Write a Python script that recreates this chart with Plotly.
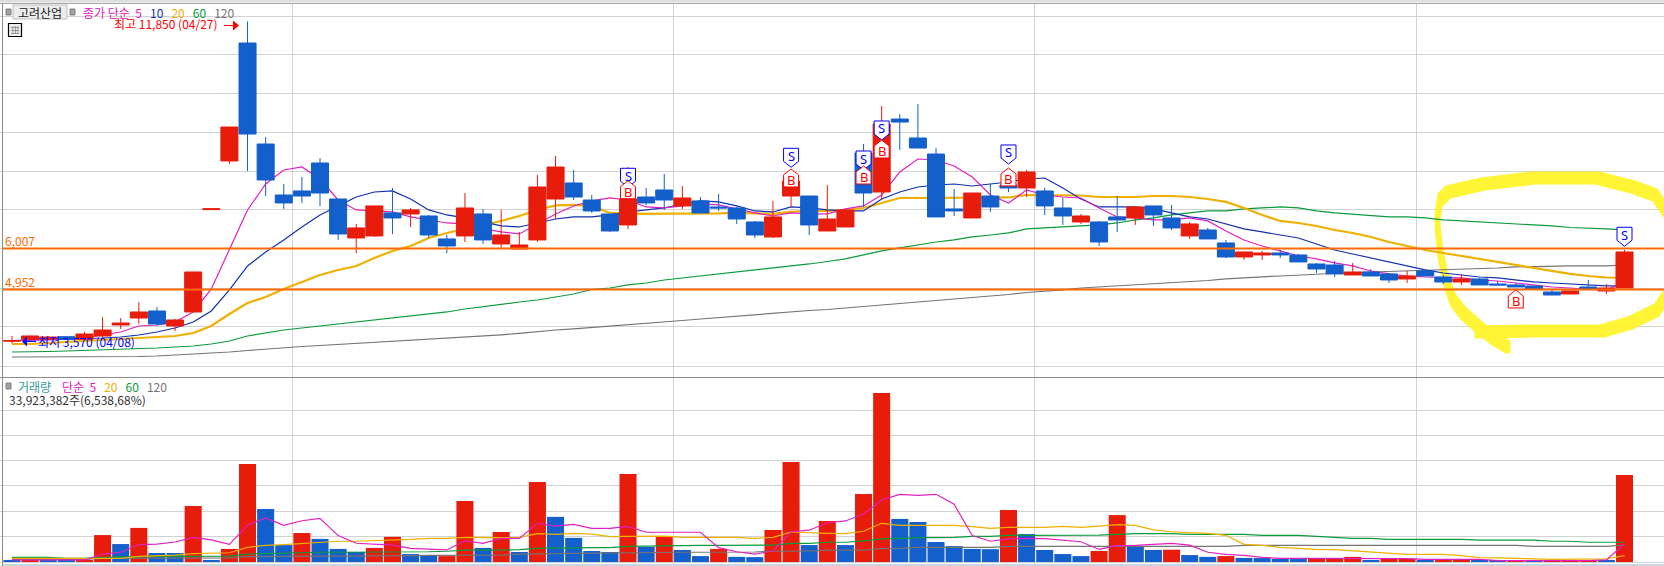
import plotly.graph_objects as go

WIDTH, HEIGHT = 1664, 566
RED, BLUE = "#e81c0a", "#135fcb"
MAGENTA, NAVY, AMBER, GREEN, GREY = "#e020c0", "#1030b0", "#f0b000", "#0c9a3c", "#747474"
FONT = "Noto Sans CJK KR"

days = list(range(90))

open_px = [3625,3672,3680,3740,3672,3758,4041,4221,4401,4015,4376,7010,8261,11296,8698,7386,7489,8209,7283,6280,
           6332,6924,6898,6846,6255,6332,6898,6126,5997,6229,7283,7695,7257,6898,6615,7334,7514,7104,7233,7078,
           7052,6692,6306,7360,7360,6460,6563,8466,7463,9340,8852,8440,7027,6795,7360,7643,7566,7489,7052,6692,
           6692,6821,6795,7104,6795,6332,6486,6152,5791,5843,5894,5843,5611,5585,5328,5405,5354,5225,5431,5276,
           5148,5225,5096,5071,5045,4890,4839,5019,4916,4993]
high_px = [3758,3770,3760,3750,3869,4247,4221,4633,4504,4195,5405,7030,9135,11850,8878,7669,7849,8338,7283,6641,
           7104,7566,7052,6872,6357,7437,7027,7001,6435,7900,8389,8029,7386,6898,8106,7566,7926,7617,7334,7412,
           7078,6718,7233,8029,7360,7643,7001,8698,9675,9469,9726,8595,7540,7437,7669,7900,8029,7566,7309,6898,
           6718,7360,7104,7104,7130,6692,6538,6229,5920,5946,5971,5868,5637,5688,5637,5482,5379,5431,5431,5328,
           5354,5251,5173,5122,5045,4942,4916,5199,5096,5971]
low_px = [3570,3629,3650,3660,3655,3706,3938,4067,4015,3886,4376,7010,8184,8003,7360,7027,7181,7104,6229,5894,
          6306,6383,6563,6280,5894,6177,6126,6023,5990,6177,6769,7257,6924,6435,6512,7130,7001,7027,6924,6975,
          6641,6280,6280,7078,6357,6460,6563,7078,7257,8543,8595,6821,6846,6795,6949,7463,7334,6872,6615,6641,
          6074,6435,6615,6589,6486,6255,6255,5765,5714,5714,5765,5663,5379,5276,5328,5302,5122,5122,5302,5096,
          5071,5071,5071,5019,4968,4813,4839,4968,4839,4993]
close_px = [3640,3758,3732,3668,3809,3912,4092,4376,4067,4170,5405,7030,9135,8955,7772,7181,7360,7437,6383,6538,
            7104,6795,7001,6357,6074,7052,6229,6357,6100,7592,8106,7334,6975,6460,7283,7181,7257,7309,6924,7052,
            6769,6357,6821,7746,6615,6769,7001,7437,9212,9263,8595,6821,6975,7437,7078,7566,7978,7104,6846,6846,
            6177,6744,7078,6872,6538,6641,6255,5791,5920,5894,5843,5663,5482,5354,5405,5302,5199,5302,5302,5148,
            5225,5071,5071,5019,4968,4813,4916,4968,4993,5920]

ma5 = [3630,3655,3655,3680,3706,3783,3861,4015,4041,4118,4376,4968,5997,7001,7669,8029,8106,7797,7257,7001,
       6975,6949,6821,6744,6666,6641,6512,6435,6383,6641,6898,7104,7233,7309,7257,7078,7052,7104,7155,7130,
       7027,6924,6846,6924,6898,6898,7027,7104,7386,7978,8312,8286,8132,7849,7386,7181,7514,7386,7334,7309,
       7052,6821,6795,6744,6744,6795,6718,6460,6229,6074,5946,5817,5740,5637,5560,5431,5354,5302,5276,5263,
       5251,5199,5173,5122,5071,5019,4993,4955,4942,5148]
ma10 = [3640,3650,3660,3670,3680,3706,3732,3783,3861,3964,4118,4401,4942,5560,5920,6229,6563,6872,7104,7334,
        7463,7489,7283,7001,6872,6795,6692,6589,6563,6666,6769,6821,6821,6872,6949,7001,7052,7155,7233,7207,
        7104,6975,6949,7078,7052,7001,6975,6975,7283,7463,7592,7643,7669,7617,7669,7720,7797,7823,7566,7283,
        7078,7078,7078,7027,6924,6821,6769,6641,6512,6435,6357,6280,6126,5971,5868,5765,5663,5560,5457,5379,
        5328,5276,5251,5199,5148,5122,5096,5071,5045,5045]
ma20 = [3552,3552,3578,3603,3629,3668,3680,3719,3745,3758,3835,4015,4324,4607,4762,4968,5148,5328,5457,5560,
        5765,5946,6074,6280,6409,6512,6615,6718,6846,7001,7117,7130,7104,6924,6898,6898,6898,6898,6898,6911,
        6924,6911,6898,6949,6975,6975,7001,7052,7181,7309,7309,7309,7309,7309,7309,7322,7386,7386,7386,7373,
        7334,7334,7334,7360,7360,7334,7283,7207,7052,6872,6718,6666,6589,6486,6409,6306,6177,6074,5971,5894,
        5817,5740,5663,5585,5508,5431,5354,5302,5263,5251]
ma60 = [3346,3346,3359,3372,3385,3398,3423,3436,3449,3475,3500,3552,3629,3758,3835,3912,3964,4015,4067,4105,
        4170,4221,4273,4324,4376,4453,4504,4569,4633,4684,4762,4839,4955,4993,5071,5122,5199,5251,5302,5354,
        5405,5457,5495,5560,5611,5675,5740,5843,5946,6023,6100,6177,6229,6306,6357,6409,6512,6538,6563,6589,
        6615,6666,6744,6795,6872,6924,6975,6975,7027,7052,7078,7052,6975,6924,6885,6846,6821,6821,6795,6744,
        6718,6692,6679,6641,6615,6589,6550,6538,6512,6486]
ma120 = [3217,3217,3217,3217,3217,3217,3217,3230,3243,3269,3282,3320,3346,3385,3423,3462,3488,3513,3539,3565,
         3590,3629,3655,3680,3706,3737,3763,3789,3827,3873,3912,3943,3976,4015,4054,4079,4118,4157,4195,4234,
         4260,4298,4337,4376,4414,4440,4478,4530,4556,4594,4633,4671,4723,4749,4787,4826,4877,4903,4942,4993,
         5019,5045,5083,5109,5135,5160,5186,5230,5263,5281,5302,5328,5354,5379,5392,5405,5418,5431,5443,5469,
         5482,5495,5508,5534,5546,5560,5560,5560,5560,5585]

# traded volume, millions of shares
volume = [0.8,0.4,0.4,0.4,0.8,10.5,7.0,13.3,3.5,3.5,21.8,0.8,5.1,38.2,20.7,6.6,11.3,9.0,5.1,3.9,
          5.5,9.8,3.1,2.7,2.3,23.8,5.5,11.7,3.9,31.2,17.6,9.4,4.3,3.9,34.3,5.9,10.1,4.7,2.3,5.1,
          2.0,1.9,12.5,39.0,6.6,16.0,6.6,26.5,65.9,16.8,15.6,7.8,6.2,5.1,5.0,20.3,10.9,4.7,3.1,2.3,
          4.3,18.3,6.2,4.7,4.8,2.7,2.0,2.3,1.6,1.55,1.2,1.15,1.2,1.25,2.0,0.8,1.2,1.25,0.8,0.85,
          0.9,0.8,0.4,0.45,0.4,0.45,0.5,0.55,0.8,33.923382]
volume_tone = list("brbbrrbrbbrbrrbbrbbbrrbbrrbrbrbbbbrbrbbrbbrrbrbrrbbbbbbrbbbbrrbbrbbrbbbbrrrbrrbrrbbrbrrrbr")
vol_ma5 = [0.8,0.8,0.8,0.8,0.8,3.1,3.8,6.8,7.0,7.8,9.6,8.6,6.9,14.3,17.2,14.3,16.1,17.0,10.3,7.3,
           6.9,6.6,5.3,4.9,4.7,8.3,7.3,9.2,9.2,15.1,14.0,14.7,13.1,13.1,13.9,11.6,11.6,11.6,11.6,5.6,
           4.0,3.1,4.3,11.8,12.4,15.3,16.0,18.7,24.2,26.4,26.0,26.4,22.5,10.3,8.1,9.0,9.2,9.1,8.5,7.9,
           4.9,6.4,6.5,6.9,7.3,6.6,3.8,3.0,2.6,1.8,1.4,1.4,1.4,1.4,1.4,1.3,1.3,1.3,1.0,1.0,
           1.0,1.0,0.5,0.5,0.5,0.5,0.5,0.5,0.8,7.1]
vol_ma20 = [1.4,1.4,1.4,1.4,1.4,1.4,1.4,2.2,2.5,2.7,3.3,3.5,3.6,5.7,6.5,6.8,7.3,7.8,8.1,8.1,
            8.3,8.7,8.8,9.2,9.2,9.6,9.5,9.5,9.6,11.1,10.8,11.2,10.9,9.9,10.0,10.1,10.1,9.6,9.6,9.6,
            9.6,9.2,9.6,11.7,11.4,11.2,11.1,12.0,15.1,14.3,14.3,14.3,14.3,13.8,13.1,13.5,13.5,13.5,13.9,13.5,
            14.0,14.6,14.3,12.5,11.8,11.4,11.2,10.4,6.9,6.5,5.7,5.3,4.9,4.8,4.4,3.8,3.4,3.0,3.0,3.0,
            2.5,1.7,1.6,1.3,1.2,1.0,1.0,1.0,1.2,2.5]
vol_ma60 = [1.8,1.8,1.8,1.4,1.4,1.8,2.0,2.2,2.2,2.2,2.3,2.3,2.3,3.1,3.3,3.5,3.8,3.8,3.8,3.8,
            3.9,3.9,4.0,4.0,4.2,4.6,4.6,4.6,4.8,5.3,5.3,5.5,5.6,5.6,6.1,6.2,6.5,6.4,6.5,6.5,
            6.5,6.5,6.6,7.3,7.3,7.7,7.7,8.2,9.0,9.2,9.5,9.5,9.6,10.0,10.0,10.4,10.4,10.4,10.4,10.4,
            10.5,10.8,11.1,11.1,11.1,10.8,10.8,10.8,10.8,10.4,10.4,10.4,10.0,9.6,9.2,9.2,8.8,8.8,8.8,8.8,
            8.8,8.5,8.5,8.5,8.5,8.1,8.1,7.7,7.7,7.7]
vol_ma120 = [1.0,1.0,1.0,1.0,1.0,1.4,1.4,1.4,1.4,1.6,1.6,1.6,1.6,2.1,2.2,2.2,2.3,2.3,2.3,2.3,
             2.5,2.5,2.5,2.6,2.6,2.7,2.7,2.7,3.1,3.3,3.3,3.4,3.5,3.5,3.8,3.8,3.8,3.8,3.8,3.8,
             3.9,3.9,4.2,4.2,4.3,4.6,4.6,4.6,5.2,5.3,5.7,5.7,5.7,5.7,5.7,6.1,6.1,6.1,6.1,6.1,
             6.1,6.1,6.1,6.1,6.1,6.1,6.1,6.1,6.5,6.5,6.5,6.5,6.5,6.5,6.5,6.5,6.5,6.5,6.5,6.5,
             6.5,6.5,6.5,6.5,6.1,6.1,6.1,6.1,6.1,6.6]

# reference price levels, trade signals (day, price at the tip of the flag)
level_high, level_low = 6007, 4952
sell_signals = [(34, 7584), (43, 8098), (47, 8029), (48, 8801), (55, 8184), (89, 6066)]
buy_signals = [(34, 7753), (43, 8055), (47, 8132), (48, 8801), (55, 8081), (83, 4942)]

price_grid = [2980, 3990, 4985, 6000, 7000, 8000, 9000, 10005, 11005, 11985]
volume_grid = [0, 10, 19.8, 29.9, 39.7, 49.3, 59]
period_breaks = [15.46, 36.5, 56.46, 77.5]

# marker-pen ring around the latest sessions, in canvas pixels
pen_stroke = [(1508, 347), (1493, 338), (1480, 328), (1463, 313), (1453, 300), (1445, 277), (1440, 250),
              (1437, 220), (1440, 200), (1448, 192), (1483, 184), (1533, 178), (1597, 178), (1633, 187),
              (1655, 195), (1670, 217), (1670, 290), (1657, 310), (1630, 323), (1602, 331), (1533, 331),
              (1477, 332)]

for series in (open_px, high_px, low_px, close_px, ma5, ma10, ma20, ma60, ma120, volume, volume_tone,
               vol_ma5, vol_ma20, vol_ma60, vol_ma120):
    assert len(series) == len(days), len(series)

# Axis geometry: one session is 18.118 px wide, one price unit is 1/25.73 px.
STEP, PRICE_PER_PX = 18.118, 25.73


def x_at(px):
    return (px - 12) / STEP


def price_at(py):
    return 12403 - PRICE_PER_PX * py


def vol_at(py):
    return (562 - py) * 0.39


def paper(px, py):
    return px / WIDTH, 1 - py / HEIGHT


shapes = []
annotations = []


def rect(x0, y0, x1, y1, fill, line=None, lw=1):
    a, b = paper(x0, y0)
    c, d = paper(x1, y1)
    shapes.append(dict(type="rect", xref="paper", yref="paper", x0=a, y0=b, x1=c, y1=d, fillcolor=fill,
                       line=dict(color=line or fill, width=lw if line else 0), layer="above"))


def label(px, py, text, color, size=12, anchor="left"):
    a, b = paper(px, py)
    annotations.append(dict(xref="paper", yref="paper", x=a, y=b, text=text, showarrow=False, xanchor=anchor,
                            yanchor="middle", borderpad=0, font=dict(family=FONT, size=size, color=color)))


def tinted(text, color):
    return f'<span style="color:{color}">{text}</span>'


def poly_path(points):
    return "M" + " L".join(f"{x:.4f},{y:.3f}" for x, y in points) + " Z"


def hull(points):
    pts = sorted(set(points))
    def cross(o, a, b):
        return (a[0] - o[0]) * (b[1] - o[1]) - (a[1] - o[1]) * (b[0] - o[0])
    lower, upper = [], []
    for p in pts:
        while len(lower) > 1 and cross(lower[-2], lower[-1], p) <= 0:
            lower.pop()
        lower.append(p)
    for p in reversed(pts):
        while len(upper) > 1 and cross(upper[-2], upper[-1], p) <= 0:
            upper.pop()
        upper.append(p)
    return lower[:-1] + upper[:-1]


# The pen has a chisel tip: wide vertically, narrow horizontally.
pen_pieces = []
for (ax, ay), (bx, by) in zip(pen_stroke, pen_stroke[1:]):
    corners = []
    for cx, cy in ((ax, ay), (bx, by)):
        corners += [(cx + dx, -(cy + dy)) for dx in (-2.5, 2.5) for dy in (-6.5, 6.5)]
    pen_pieces.append(poly_path([(x_at(x), price_at(-y)) for x, y in hull(corners)]))
shapes.append(dict(type="path", xref="x", yref="y", path=" ".join(pen_pieces), fillcolor="#fff21a", opacity=0.88,
                   fillrule="nonzero", line=dict(width=0), layer="between"))

# Horizontal price levels
for level in (level_high, level_low):
    shapes.append(dict(type="line", xref="paper", yref="y", x0=3 / WIDTH, x1=1, y0=level, y1=level,
                       line=dict(color="#ff6a00", width=2), layer="above"))
label(4, 240.5, f"{level_high:,}", "#ff6a00")
label(4, 281.5, f"{level_low:,}", "#ff6a00")

# Sell and buy flags
hw = 7.5 / STEP
for day, tip in sell_signals:
    outline = [(day - hw, tip + 19 * PRICE_PER_PX), (day + hw, tip + 19 * PRICE_PER_PX), (day + hw, tip + 6 * PRICE_PER_PX),
               (day, tip), (day - hw, tip + 6 * PRICE_PER_PX)]
    shapes.append(dict(type="path", xref="x", yref="y", path=poly_path(outline), fillcolor="white",
                       line=dict(color="#0000ff", width=1), layer="above"))
    annotations.append(dict(xref="x", yref="y", x=day, y=tip, yshift=11.5, text="S", showarrow=False,
                            font=dict(family="Noto Sans", size=13, color="#0000ff")))
for day, tip in buy_signals:
    outline = [(day, tip), (day + hw, tip - 6 * PRICE_PER_PX), (day + hw, tip - 18 * PRICE_PER_PX),
               (day - hw, tip - 18 * PRICE_PER_PX), (day - hw, tip - 6 * PRICE_PER_PX)]
    shapes.append(dict(type="path", xref="x", yref="y", path=poly_path(outline), fillcolor="white",
                       line=dict(color="#ff0000", width=1), layer="above"))
    annotations.append(dict(xref="x", yref="y", x=day, y=tip, yshift=-11.5, text="B", showarrow=False,
                            font=dict(family="Noto Sans", size=13, color="#ff0000")))

# Window frame and panel divider
rect(0, 0, WIDTH, 2.5, "#dedede")
rect(0, 3, WIDTH, 4, "#a8a8a8")
rect(2, 3, 3, HEIGHT, "#8c8c8c")
rect(0, 377, WIDTH, 378, "#8c8c8c")
rect(3, 564, WIDTH, HEIGHT, "#c9d5e2")

# Price panel header
NB = "\u00a0"
rect(6, 9, 11, 15, "#a0a0a0", "#808080")
rect(13, 5, 67, 19, "#ececec", "#c0c0c0")
label(40, 12, "고려산업", "#222222", anchor="center")
rect(70, 9, 75, 15, "#a0a0a0", "#808080")
label(82, 12, tinted("종가 단순" + NB * 2 + "5", MAGENTA) + NB * 3 + tinted("10", NAVY) + NB * 3 + tinted("20", AMBER)
      + NB * 3 + tinted("60", GREEN) + NB * 3 + tinted("120", GREY), MAGENTA)

# Table button
rect(8.5, 23.5, 21.5, 36.5, "#eeeeee", "#000000", 1.2)
for gx in (12.5, 15, 17.5):
    rect(gx, 26, gx + 0.8, 34, "#8a8a8a")
for gy in (27, 30, 33):
    rect(11, gy, 19, gy + 0.8, "#8a8a8a")

# Extremes of the period
label(113, 24, "최고 11,850 (04/27)", "#ff0000")
rect(224, 25, 234, 26, "#ff0000")
a1, b1 = paper(233, 20.5)
a2, b2 = paper(239, 25.5)
a3, b3 = paper(233, 30.5)
shapes.append(dict(type="path", xref="paper", yref="paper", path=f"M{a1},{b1} L{a2},{b2} L{a3},{b3} Z",
                   fillcolor="#ff0000", line=dict(width=0), layer="above"))
label(37, 341, "최저 3,570 (04/08)", "#0000ff")
rect(26, 341, 36, 342, "#0000ff")
a1, b1 = paper(27, 336.5)
a2, b2 = paper(22, 341.5)
a3, b3 = paper(27, 346.5)
shapes.append(dict(type="path", xref="paper", yref="paper", path=f"M{a1},{b1} L{a2},{b2} L{a3},{b3} Z",
                   fillcolor="#0000ff", line=dict(width=0), layer="above"))

# Volume panel header
rect(6, 383, 11, 389, "#a0a0a0", "#808080")
label(17, 386, tinted("거래량", "#2f9a9a") + NB * 4 + tinted("단순", MAGENTA) + NB * 2 + tinted("5", MAGENTA) + NB * 3
      + tinted("20", AMBER) + NB * 3 + tinted("60", GREEN) + NB * 3 + tinted("120", GREY), "#2f9a9a")
label(8, 399.5, "33,923,382주(6,538,68%)", "#333333")


def line_trace(values, color, width, xaxis="x", yaxis="y"):
    return go.Scatter(x=days, y=values, mode="lines", line=dict(color=color, width=width), xaxis=xaxis,
                      yaxis=yaxis, hoverinfo="skip", showlegend=False)


fig = go.Figure()
for values, color, width in ((ma120, GREY, 1.2), (ma60, GREEN, 1.2), (ma20, AMBER, 2.2), (ma10, NAVY, 1.2), (ma5, MAGENTA, 1.2)):
    fig.add_trace(line_trace(values, color, width))

# Candles sit on an overlaid axis so the averages stay behind them.
fig.add_trace(go.Candlestick(x=days, open=open_px, high=high_px, low=low_px, close=close_px, xaxis="x", yaxis="y3",
                             whiskerwidth=0, showlegend=False,
                             increasing=dict(line=dict(color=RED, width=1), fillcolor=RED),
                             decreasing=dict(line=dict(color=BLUE, width=1), fillcolor=BLUE)))

fig.add_trace(go.Bar(x=days, y=volume, width=0.94, xaxis="x2", yaxis="y2", showlegend=False,
                     marker=dict(color=[RED if t == "r" else BLUE for t in volume_tone], line=dict(width=0))))
for values, color in ((vol_ma120, GREY), (vol_ma60, GREEN), (vol_ma20, AMBER), (vol_ma5, MAGENTA)):
    fig.add_trace(line_trace(values, color, 1.2, "x2", "y2"))

x_span = [x_at(0), x_at(WIDTH)]
grid = "#d2d2d2"
price_span = [price_at(377), price_at(4)]
price_domain = [1 - 377 / HEIGHT, 1 - 4 / HEIGHT]
x_common = dict(range=x_span, tickmode="array", tickvals=period_breaks, showticklabels=False, ticks="", showgrid=True,
                gridcolor=grid, gridwidth=1, zeroline=False, showline=False, domain=[0, 1])
fig.update_layout(
    width=WIDTH, height=HEIGHT, margin=dict(l=0, r=0, t=0, b=0), paper_bgcolor="white", plot_bgcolor="white",
    showlegend=False, boxgap=0.06, boxgroupgap=0, bargap=0.06, font=dict(family=FONT),
    xaxis=dict(**x_common, anchor="y", rangeslider=dict(visible=False)),
    xaxis2=dict(**x_common, anchor="y2"),
    yaxis=dict(domain=price_domain, range=price_span, tickmode="array", tickvals=price_grid, showticklabels=False,
               ticks="", showgrid=True, gridcolor=grid, gridwidth=1, zeroline=False),
    yaxis3=dict(domain=price_domain, range=price_span, overlaying="y", visible=False, showgrid=False),
    yaxis2=dict(domain=[0, 1 - 378 / HEIGHT], range=[vol_at(566), vol_at(378)], tickmode="array", tickvals=volume_grid,
                showticklabels=False, ticks="", showgrid=True, gridcolor=grid, gridwidth=1, zeroline=False),
    shapes=shapes, annotations=annotations,
)
fig.write_html("out.html")
